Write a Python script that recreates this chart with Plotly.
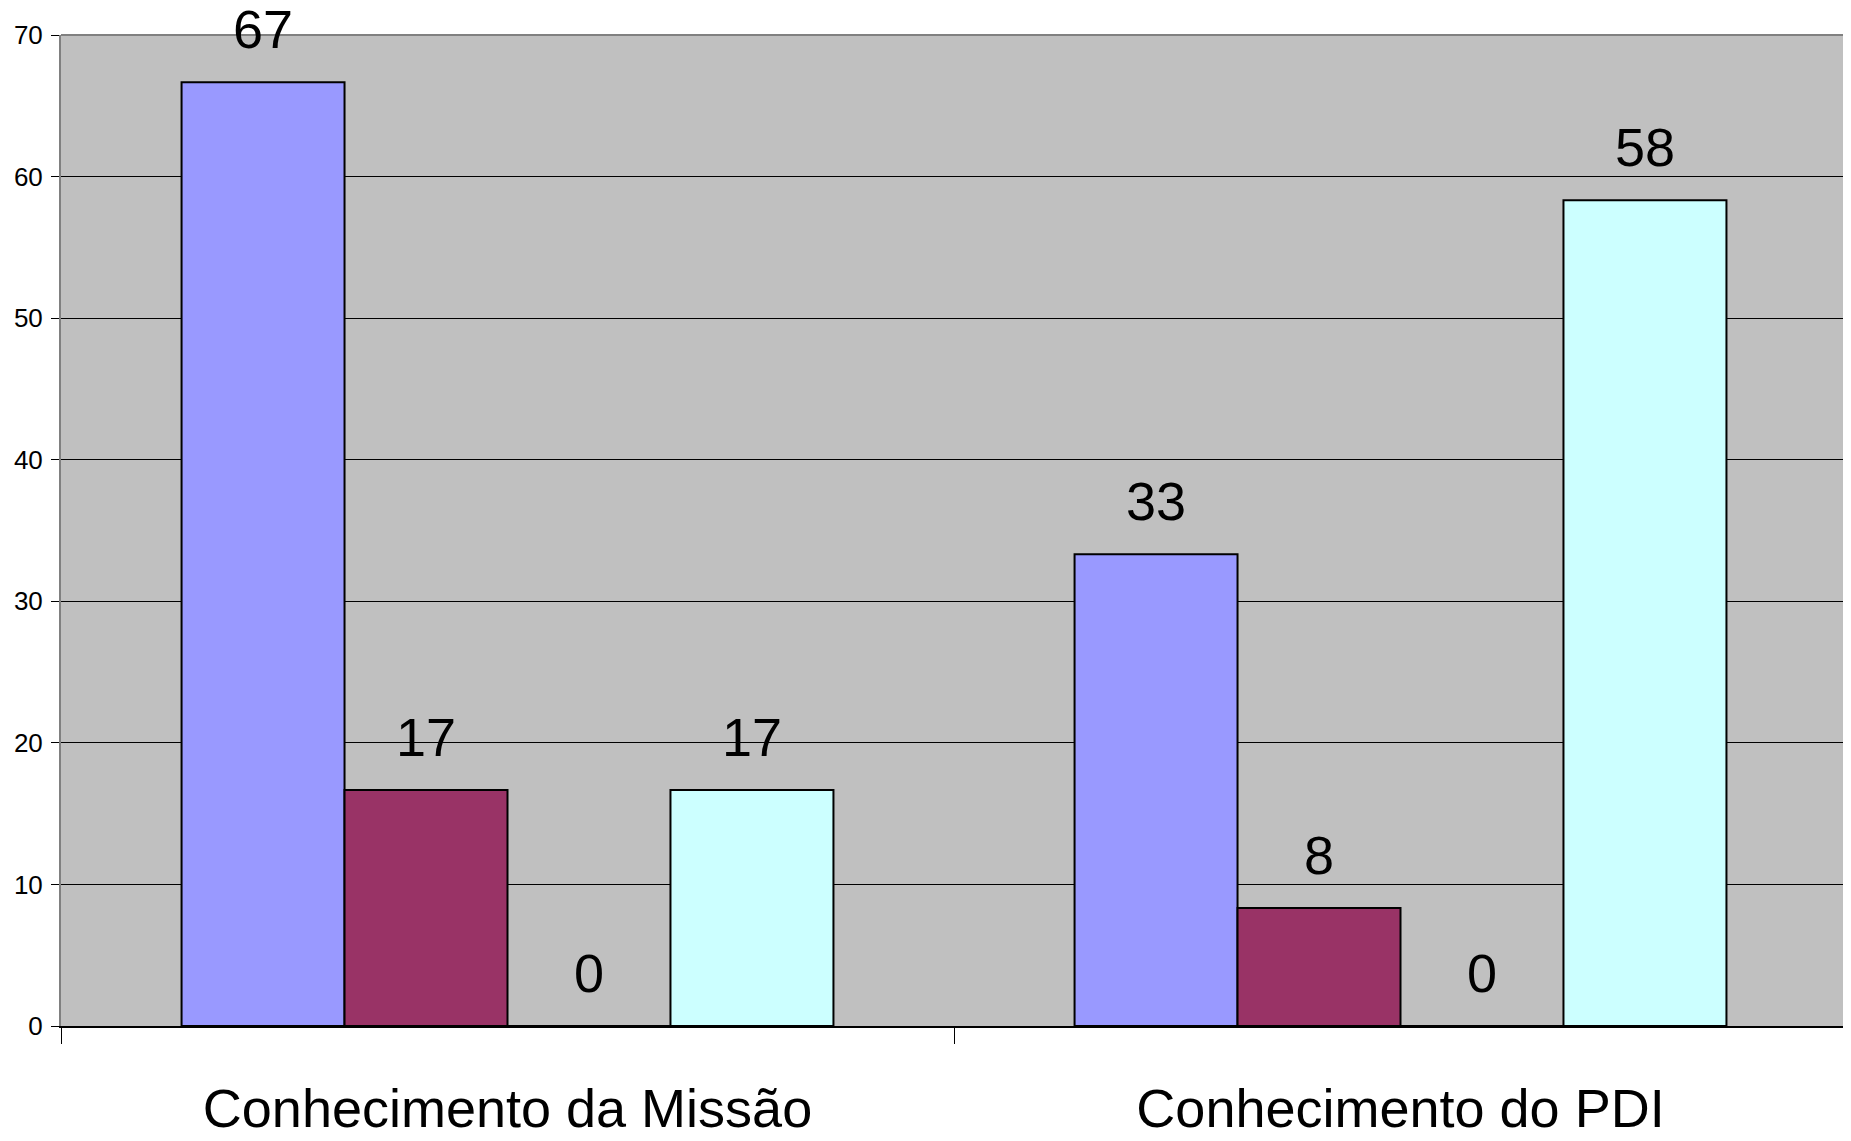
import plotly.graph_objects as go

categories = ["Conhecimento da Missão", "Conhecimento do PDI"]
series_names = ["Série 1", "Série 2", "Série 3", "Série 4"]
series_values = [
    [66.67, 33.33],
    [16.67, 8.33],
    [0.0, 0.0],
    [16.67, 58.33],
]
series_colors = ["#9999FF", "#993366", "#FFFFCC", "#CCFFFF"]
y_ticks = [0, 10, 20, 30, 40, 50, 60, 70]

# page has an 8px body margin; size the figure to fit the window
W, H = 1839, 1125
ML, MR, MT, MB = 53, 0, 27, 107
BARGAP = 0.27
FONT = "Liberation Sans, Arial, sans-serif"

fig = go.Figure()
for name, vals, col in zip(series_names, series_values, series_colors):
    fig.add_trace(go.Bar(
        x=categories, y=vals, name=name,
        marker=dict(color=col, line=dict(color="black", width=2)),
        showlegend=False, hoverinfo="x+y",
    ))

# value labels above each bar
plot_w = W - ML - MR
cat_w = plot_w / len(categories)
bar_w = cat_w * (1 - BARGAP) / len(series_values)
n = len(series_values)
for i, vals in enumerate(series_values):
    for c, v in zip(categories, vals):
        fig.add_annotation(
            x=c, y=v, xref="x", yref="y",
            text=f"{round(v):d}", showarrow=False,
            xshift=(i - (n - 1) / 2) * bar_w,
            yanchor="bottom", yshift=21,
            font=dict(family=FONT, size=54, color="black"),
        )

# top and right gray border of plot area
fig.add_shape(type="line", xref="paper", yref="paper", x0=0, x1=1, y0=1, y1=1,
              line=dict(color="#808080", width=2), layer="above")
fig.add_shape(type="line", xref="paper", yref="paper", x0=1, x1=1, y0=0, y1=1,
              line=dict(color="#808080", width=3), layer="above")

fig.update_layout(
    width=W, height=H,
    margin=dict(l=ML, r=MR, t=MT, b=MB, pad=0, autoexpand=False),
    paper_bgcolor="white", plot_bgcolor="#C0C0C0",
    barmode="group", bargap=BARGAP, bargroupgap=0,
    font=dict(family=FONT, color="black"),
)
fig.update_xaxes(
    type="category", tickson="boundaries", ticks="outside", ticklen=16,
    tickcolor="black", tickwidth=1, automargin=False,
    showline=True, linecolor="black", linewidth=2, showgrid=False,
    tickfont=dict(family=FONT, size=54, color="black"),
    ticklabelstandoff=34,
)
fig.update_yaxes(
    range=[0, 70], tickvals=y_ticks, ticks="outside", ticklen=8,
    tickcolor="black", tickwidth=1, automargin=False,
    showline=True, linecolor="#808080", linewidth=2,
    showgrid=True, gridcolor="black", gridwidth=1,
    zeroline=False,
    tickfont=dict(family=FONT, size=26, color="black"),
    ticklabelstandoff=3,
)

fig.write_html("out.html")
